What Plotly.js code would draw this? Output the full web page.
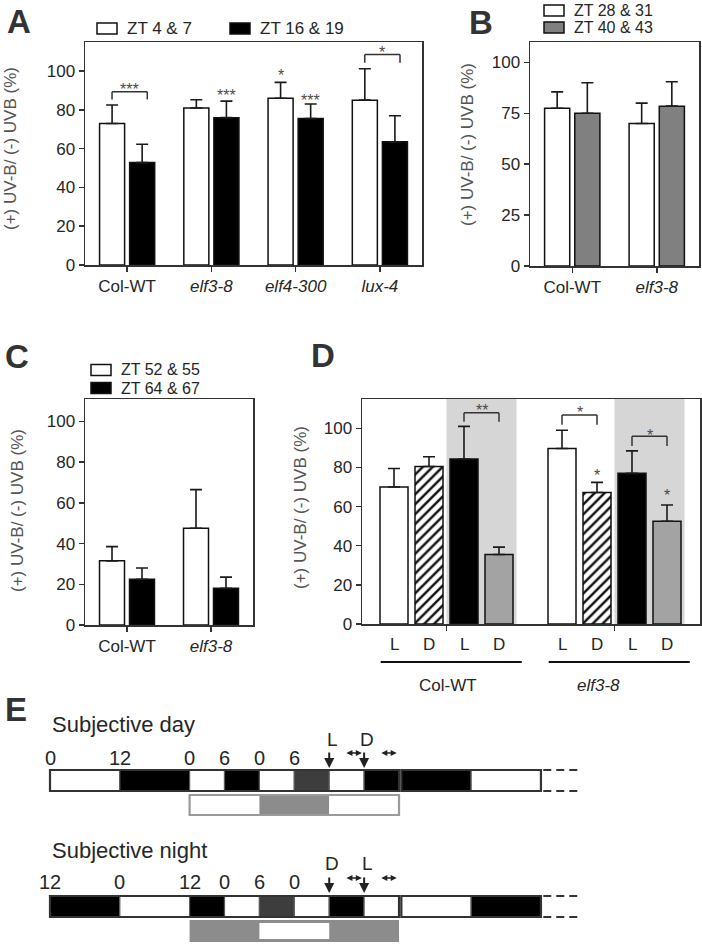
<!DOCTYPE html>
<html><head><meta charset="utf-8">
<script src="https://cdn.plot.ly/plotly-3.0.1.min.js"></script>
<style>html,body{margin:0;padding:0;background:#fff}#chart{width:702px;height:944px}</style>
</head><body><div id="chart"></div>
<script>
// ================= DATA =================
// Panel A
const aCategories = ['Col-WT', 'elf3-8', 'elf4-300', 'lux-4'];
const aTickText = ['Col-WT', '<i>elf3-8</i>', '<i>elf4-300</i>', '<i>lux-4</i>'];
const aSeriesNames = ['ZT 4 & 7', 'ZT 16 & 19'];
const aDayMean = [73, 81, 86, 85];
const aDaySD = [9.5, 4.2, 8.2, 16.2];
const aNightMean = [52.8, 76, 75.5, 63.5];
const aNightSD = [9.5, 8.5, 7.5, 13.5];
// [category, bracket top, leg end, star level, label]
const aBrackets = [[0, 89.3, 85.4, 92.8, '***'], [3, 108.6, 104.3, 111.7, '*']];
// [category, series (0 first / 1 second), star level, label]
const aBarStars = [[1, 1, 89.3, '***'], [2, 0, 99.6, '*'], [2, 1, 86.7, '***']];

// Panel B
const bCategories = ['Col-WT', 'elf3-8'];
const bTickText = ['Col-WT', '<i>elf3-8</i>'];
const bSeriesNames = ['ZT 28 & 31', 'ZT 40 & 43'];
const bFirstMean = [77.5, 70];
const bFirstSD = [8, 10];
const bSecondMean = [75, 78.5];
const bSecondSD = [15, 12];

// Panel C
const cCategories = ['Col-WT', 'elf3-8'];
const cTickText = ['Col-WT', '<i>elf3-8</i>'];
const cSeriesNames = ['ZT 52 & 55', 'ZT 64 & 67'];
const cFirstMean = [31.5, 47.5];
const cFirstSD = [7, 19];
const cSecondMean = [22.5, 18];
const cSecondSD = [5.5, 5.5];

// Panel D
const dGenotypes = ['Col-WT', 'elf3-8'];
const dGenotypeText = ['Col-WT', '<i>elf3-8</i>'];
const dConditionLabels = ['L', 'D', 'L', 'D'];
const dSubjDayL = [70, 89.7];     const dSubjDayLSD = [9.5, 9.3];
const dSubjDayD = [80.5, 67.2];   const dSubjDayDSD = [5, 5.2];
const dSubjNightL = [84.3, 77];   const dSubjNightLSD = [16.7, 11.5];
const dSubjNightD = [35.5, 52.5]; const dSubjNightDSD = [3.8, 8.3];
// [group, slot a, slot b, bracket top, leg end, star level, label]
const dBrackets = [[0, 2, 3, 108, 103.4, 111, '**'], [1, 0, 1, 106.8, 101.8, 110, '*'], [1, 2, 3, 96, 91, 98.6, '*']];
// [group, slot, star level, label]
const dBarStars = [[1, 1, 78, '*'], [1, 3, 67.5, '*']];

// Panel E (schematic, hours)
const eSegHours = [12, 12, 6, 6, 6, 6, 6, 6];
const eDayPhases = ['light', 'dark', 'light', 'dark', 'light', 'dim', 'light', 'dark'];
const eNightPhases = ['dark', 'light', 'dark', 'light', 'dim', 'light', 'dark', 'light'];
const eDayNext = ['dark', 'light'];
const eNightNext = ['light', 'dark'];
const eNextHours = [12, 12];
const eTickHours = [0, 12, 24, 30, 36, 42];
const eDayTickText = ['0', '12', '0', '6', '0', '6'];
const eNightTickText = ['12', '0', '12', '0', '6', '0'];
const eSampleHours = [48, 54];
const eDaySampleText = ['L', 'D'];
const eNightSampleText = ['D', 'L'];
const eLowerHours = [24, 36, 48, 60];
const eDayLower = ['light', 'grey', 'light'];
const eNightLower = ['grey', 'light', 'grey'];

// ================= STYLE / LAYOUT =================
const W = 702, H = 944;
const px = v => v / W;
const py = v => 1 - v / H;
const FONT = 'Liberation Sans, Arial, Helvetica, sans-serif';
const INK = '#262626', TITLE_INK = '#555555', LINE = '#333333', STAR = '#4a4a4a';
const FRAME = {
  A: {x: [85, 422], y: [42, 265], r: [0, 115], dt: 20},
  B: {x: [530, 699], y: [42, 266], r: [0, 110], dt: 25},
  C: {x: [85, 253], y: [399, 625], r: [0, 111], dt: 20},
  D: {x: [362, 700], y: [399, 624], r: [0, 115], dt: 20}
};
const D_STEP = 4.8, D_BAR_W = 0.8, D_PX_PER_UNIT = 35, D_ZERO_PX = 394;
const SIDE = 0.179; // half slot (category units) for grouped bars in A-C

const common = {
  showline: true, mirror: true, linecolor: LINE, linewidth: 1.5,
  ticks: 'outside', ticklen: 5, tickwidth: 1.5, tickcolor: LINE,
  showgrid: false, zeroline: false, fixedrange: true,
  tickfont: {family: FONT, size: 17, color: INK}
};
function yAx(f, anchor) {
  return Object.assign({}, common, {domain: [py(f.y[1]), py(f.y[0])], range: f.r, autorange: false,
    tick0: 0, dtick: f.dt, anchor: anchor});
}
function xCat(f, cats, txt, anchor) {
  return Object.assign({}, common, {domain: [px(f.x[0]), px(f.x[1])], type: 'category',
    categoryarray: cats, tickvals: cats, ticktext: txt, range: [-0.5, cats.length - 0.5], anchor: anchor});
}

const zeros = a => a.map(() => 0);
function errY(sd) {
  return {type: 'data', array: sd, arrayminus: zeros(sd), symmetric: false, color: '#1a1a1a', thickness: 1.6, width: 6};
}
function bar(x, y, sd, xa, ya, marker, extra) {
  return Object.assign({type: 'bar', x: x, y: y, xaxis: xa, yaxis: ya, error_y: errY(sd),
    marker: Object.assign({line: {color: '#111', width: 1.5}}, marker), showlegend: false, hoverinfo: 'skip'}, extra || {});
}

const WHITE = '#ffffff', BLACK = '#000000', BGREY = '#808080', DGREY = '#a3a3a3', SHADE = '#d6d6d6';

const data = [
  bar(aCategories, aDayMean, aDaySD, 'x', 'y', {color: WHITE}),
  bar(aCategories, aNightMean, aNightSD, 'x', 'y', {color: BLACK}),
  bar(bCategories, bFirstMean, bFirstSD, 'x2', 'y2', {color: WHITE}),
  bar(bCategories, bSecondMean, bSecondSD, 'x2', 'y2', {color: BGREY}),
  bar(cCategories, cFirstMean, cFirstSD, 'x3', 'y3', {color: WHITE}),
  bar(cCategories, cSecondMean, cSecondSD, 'x3', 'y3', {color: BLACK})
];
const dSeries = [
  [dSubjDayL, dSubjDayLSD, {color: WHITE}],
  [dSubjDayD, dSubjDayDSD, {color: WHITE, pattern: {shape: '/', fgcolor: '#111', bgcolor: WHITE, size: 7, solidity: 0.35, fillmode: 'replace'}}],
  [dSubjNightL, dSubjNightLSD, {color: BLACK}],
  [dSubjNightD, dSubjNightDSD, {color: DGREY}]
];
const dX = (g, s) => g * D_STEP + s;
dSeries.forEach((s, slot) => {
  data.push(bar(dGenotypes.map((_, g) => dX(g, slot)), s[0], s[1], 'x4', 'y4', s[2],
    {width: D_BAR_W, offset: -D_BAR_W / 2}));
});
data.push({type: 'scatter', x: [], y: [], xaxis: 'x5', yaxis: 'y5', showlegend: false, hoverinfo: 'skip'});

const shapes = [], annotations = [];
function txt(x, y, text, size, opts) {
  annotations.push(Object.assign({x: x, y: y, text: text, showarrow: false, xref: 'paper', yref: 'paper',
    xanchor: 'center', yanchor: 'middle', font: {family: FONT, size: size, color: INK}}, opts || {}));
}
function rectPx(x0, y0, x1, y1, fill, lc, lw) {
  shapes.push({type: 'rect', xref: 'paper', yref: 'paper', x0: px(x0), x1: px(x1), y0: py(y1), y1: py(y0),
    fillcolor: fill, line: {color: lc, width: lw}});
}
function lineD(xr, yr, x0, y0, x1, y1, w, c, extra) {
  shapes.push(Object.assign({type: 'line', xref: xr, yref: yr, x0: x0, y0: y0, x1: x1, y1: y1,
    line: {color: c || LINE, width: w || 1.5}}, extra || {}));
}

// panel letters
[['A', 5, 21.5], ['B', 467, 22.5], ['C', 3, 356], ['D', 309, 355.5], ['E', 3, 709.5]].forEach(l =>
  txt(px(l[1]), py(l[2]), '<b>' + l[0] + '</b>', 33, {xanchor: 'left', font: {family: FONT, size: 33, color: '#333'}}));

// y titles
const YT = '(+) UV-B/ (-) UVB (%)';
[[11, 149], [468, 145], [18, 511], [300, 508]].forEach(t =>
  txt(px(t[0]), py(t[1]), YT, 17, {textangle: -90, font: {family: FONT, size: 17, color: TITLE_INK}}));

// legends
function legendEntry(bx, by, fill, label, fs) {
  rectPx(bx, by - 5.5, bx + 20, by + 5.5, fill, '#111', 1.5);
  txt(px(bx + 28), py(by), label, fs, {xanchor: 'left', font: {family: FONT, size: fs, color: INK}});
}
legendEntry(97, 28.5, WHITE, aSeriesNames[0], 17);
legendEntry(230, 28.5, BLACK, aSeriesNames[1], 17);
legendEntry(544, 10.5, WHITE, bSeriesNames[0], 16);
legendEntry(544, 27.5, BGREY, bSeriesNames[1], 16);
legendEntry(91, 370, WHITE, cSeriesNames[0], 16);
legendEntry(91, 388, BLACK, cSeriesNames[1], 16);

// A significance
function star(xr, yr, x, y, label) {
  annotations.push({x: x, y: y, xref: xr, yref: yr, text: label, showarrow: false, yshift: -4,
    xanchor: 'center', yanchor: 'middle', font: {family: FONT, size: 16, color: STAR}});
}
aBrackets.forEach(b => {
  const x0 = b[0] - SIDE, x1 = b[0] + SIDE + 0.06;
  lineD('x', 'y', x0, b[1], x1, b[1]);
  lineD('x', 'y', x0, b[1], x0, b[2]);
  lineD('x', 'y', x1, b[1], x1, b[2]);
  star('x', 'y', (x0 + x1) / 2, b[3], b[4]);
});
aBarStars.forEach(s => star('x', 'y', s[0] + (s[1] ? SIDE : -SIDE), s[2], s[3]));

// D shading, brackets, stars, labels
dGenotypes.forEach((g, gi) => {
  shapes.push({type: 'rect', xref: 'x4', yref: 'y4 domain', x0: dX(gi, 1.5), x1: dX(gi, 3.5), y0: 0, y1: 1,
    fillcolor: SHADE, line: {width: 0}, layer: 'below'});
  dConditionLabels.forEach((c, s) => annotations.push({x: dX(gi, s), y: py(644), xref: 'x4', yref: 'paper',
    xanchor: 'center', yanchor: 'middle', text: c, showarrow: false, font: {family: FONT, size: 17, color: INK}}));
  lineD('x4', 'paper', dX(gi, -0.38), py(662), dX(gi, 3.65), py(662), 2, '#111');
  annotations.push({x: dX(gi, gi ? 1.05 : 1.55), y: py(685), xref: 'x4', yref: 'paper', text: dGenotypeText[gi],
    xanchor: 'center', yanchor: 'middle', showarrow: false, font: {family: FONT, size: 17, color: INK}});
});
dBrackets.forEach(b => {
  const x0 = dX(b[0], b[1]), x1 = dX(b[0], b[2]);
  lineD('x4', 'y4', x0, b[3], x1, b[3]);
  lineD('x4', 'y4', x0, b[3], x0, b[4]);
  lineD('x4', 'y4', x1, b[3], x1, b[4]);
  star('x4', 'y4', (x0 + x1) / 2, b[5], b[6]);
});
dBarStars.forEach(s => star('x4', 'y4', dX(s[0], s[1]), s[2], s[3]));

// ---------- Panel E ----------
const E_PX_PER_H = 5.817, E_X0 = 50, E_GAP = 0.4;
const PHASE = {light: '#ffffff', dark: '#000000', dim: '#3d3d3d', grey: '#8c8c8c'};
const rows = [
  {title: 'Subjective day', phases: eDayPhases, next: eDayNext, ticks: eDayTickText, samples: eDaySampleText,
   lower: eDayLower, lowerOutline: '#9a9a9a', titleY: 724.5, tickY: 758, markY: 739, arrowTop: 751, arrowBot: 768,
   dblY: 753, barTop: 770, barBot: 791, lowTop: 795, lowBot: 815},
  {title: 'Subjective night', phases: eNightPhases, next: eNightNext, ticks: eNightTickText, samples: eNightSampleText,
   lower: eNightLower, lowerOutline: null, titleY: 850.5, tickY: 882, markY: 863, arrowTop: 876, arrowBot: 893,
   dblY: 878, barTop: 896, barBot: 917, lowTop: 920, lowBot: 942}
];
function eRect(h0, h1, y0, y1, fill, lc, lw) {
  shapes.push({type: 'rect', xref: 'x5', yref: 'y5', x0: h0, x1: h1, y0: y0, y1: y1, fillcolor: fill,
    line: lc ? {color: lc, width: lw} : {width: 0}});
}
rows.forEach(r => {
  annotations.push({x: 0, y: r.titleY, xref: 'x5', yref: 'y5', text: r.title, showarrow: false, xanchor: 'left',
    yanchor: 'middle', font: {family: FONT, size: 22, color: INK}});
  let h = 0;
  r.phases.forEach((ph, i) => { eRect(h, h + eSegHours[i], r.barTop, r.barBot, PHASE[ph], '#5a5a5a', 1.2); h += eSegHours[i]; });
  eRect(0, h, r.barTop, r.barBot, 'rgba(0,0,0,0)', LINE, 2.2);
  let h2 = h + E_GAP;
  const nStart = h2;
  r.next.forEach((ph, i) => { eRect(h2, h2 + eNextHours[i], r.barTop, r.barBot, PHASE[ph], '#5a5a5a', 1.2); h2 += eNextHours[i]; });
  eRect(nStart, h2, r.barTop, r.barBot, 'rgba(0,0,0,0)', LINE, 2.2);
  [r.barTop, r.barBot].forEach(yy => lineD('x5', 'y5', h2 + 0.4, yy, h2 + 6.6, yy, 2, LINE, {line: {color: LINE, width: 2, dash: '8px,5px'}}));
  // lower bar
  if (r.lowerOutline) {
    r.lower.forEach((ph, i) => eRect(eLowerHours[i], eLowerHours[i + 1], r.lowTop, r.lowBot, PHASE[ph]));
    eRect(eLowerHours[0], eLowerHours[3], r.lowTop, r.lowBot, 'rgba(0,0,0,0)', r.lowerOutline, 2.2);
  } else {
    eRect(eLowerHours[0], eLowerHours[3], r.lowTop, r.lowBot, PHASE.grey);
    r.lower.forEach((ph, i) => { if (ph === 'light') eRect(eLowerHours[i], eLowerHours[i + 1], r.lowTop + 3, r.lowBot - 3, PHASE.light); });
  }
  // hour labels
  eTickHours.forEach((hh, i) => annotations.push({x: hh, y: r.tickY, xref: 'x5', yref: 'y5', text: r.ticks[i],
    xanchor: 'center', yanchor: 'middle', showarrow: false, font: {family: FONT, size: 20, color: INK}}));
  // sampling arrows
  eSampleHours.forEach((hh, i) => {
    annotations.push({x: hh + 0.5, y: r.markY, xref: 'x5', yref: 'y5', text: r.samples[i], showarrow: false,
      xanchor: 'center', yanchor: 'middle', font: {family: FONT, size: 19, color: INK}});
    annotations.push({x: hh, y: r.arrowBot, xref: 'x5', yref: 'y5', text: '', showarrow: true, ax: 0,
      ay: -(r.arrowBot - r.arrowTop), arrowhead: 2, arrowsize: 1, arrowwidth: 2, arrowcolor: '#222'});
    annotations.push({x: hh + 5.6, y: r.dblY, xref: 'x5', yref: 'y5', axref: 'x5', ayref: 'y5', ax: hh + 2.7, ay: r.dblY,
      text: '', showarrow: true, arrowside: 'end+start', arrowhead: 2, startarrowhead: 2, arrowsize: 0.8,
      startarrowsize: 0.8, arrowwidth: 1.5, arrowcolor: '#222'});
  });
});

const layout = {
  width: W, height: H, margin: {l: 0, r: 0, t: 0, b: 0},
  paper_bgcolor: '#ffffff', plot_bgcolor: 'rgba(0,0,0,0)',
  font: {family: FONT, color: INK},
  barmode: 'group', bargap: 0.286, bargroupgap: 0.167, showlegend: false,
  xaxis: xCat(FRAME.A, aCategories, aTickText, 'y'), yaxis: yAx(FRAME.A, 'x'),
  xaxis2: xCat(FRAME.B, bCategories, bTickText, 'y2'), yaxis2: yAx(FRAME.B, 'x2'),
  xaxis3: xCat(FRAME.C, cCategories, cTickText, 'y3'), yaxis3: yAx(FRAME.C, 'x3'),
  xaxis4: Object.assign({}, common, {domain: [px(FRAME.D.x[0]), px(FRAME.D.x[1])], anchor: 'y4',
    range: [(FRAME.D.x[0] - D_ZERO_PX) / D_PX_PER_UNIT, (FRAME.D.x[1] - D_ZERO_PX) / D_PX_PER_UNIT], autorange: false,
    tickvals: [dX(0, 1.5), dX(1, 1.5)], ticktext: ['', '']}),
  yaxis4: yAx(FRAME.D, 'x4'),
  xaxis5: {domain: [0, 1], anchor: 'y5', range: [-E_X0 / E_PX_PER_H, (W - E_X0) / E_PX_PER_H], autorange: false,
    visible: false, fixedrange: true, showgrid: false, zeroline: false},
  yaxis5: {domain: [0, 1], anchor: 'x5', range: [H, 0], autorange: false, visible: false, fixedrange: true,
    showgrid: false, zeroline: false},
  shapes: shapes, annotations: annotations
};
Plotly.newPlot('chart', data, layout, {staticPlot: true, displayModeBar: false});
</script>
</body></html>
